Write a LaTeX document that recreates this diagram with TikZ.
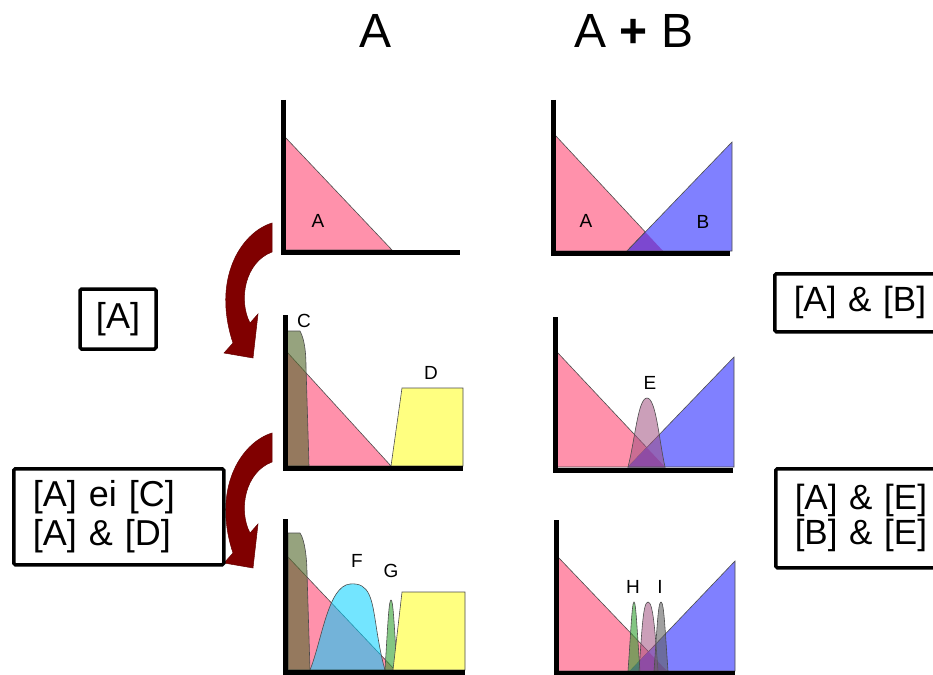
\documentclass[tikz,border=0pt]{standalone}
\usepackage{fontspec}
\setmainfont{Liberation Sans}
\definecolor{pinkA}{HTML}{FF91AB}
\definecolor{blueB}{HTML}{8080FF}
\definecolor{overAB}{HTML}{7C48D0}
\definecolor{yellowD}{HTML}{FFFF80}
\definecolor{oliveC}{HTML}{556B2F}
\definecolor{cyanF}{HTML}{00D0FF}
\definecolor{greenG}{HTML}{30A030}
\definecolor{mauveE}{HTML}{A05080}
\definecolor{grayI}{HTML}{606060}
\definecolor{arrowred}{HTML}{800000}
\begin{document}
\begin{tikzpicture}[x=1pt,y=-1pt,
  axis/.style={line width=5pt, line join=miter},
  shp/.style={draw=black!70, line width=0.6pt},
  bell/.style={draw=black!70, line width=0.6pt, fill opacity=0.55},
  lbl/.style={font=\fontsize{19}{19}\selectfont, inner sep=0pt},
  ttl/.style={font=\fontsize{48}{48}\selectfont, inner sep=0pt},
  box/.style={draw, line width=3.5pt, rounded corners=1.5pt, inner sep=0pt},
  bigarrow/.style={fill=arrowred, draw=arrowred!80!black, line width=0.5pt}]
\useasboundingbox (0,0) rectangle (933,674);
\clip (0,0) rectangle (933,674);

% titles
\node[ttl] (tA) at (376,31) {A};
\node[ttl] (tAB) at (634,31) {A \textbf{+} B};

% ---------- panel 1 ----------
\fill[shp, fill=pinkA] (285,137) -- (392,250) -- (285,250) -- cycle;
\draw[axis] (283,100) -- (283,252) -- (460,252);
\node[lbl] (lA1) at (318,221) {A};

% ---------- panel 2 ----------
\fill[shp, fill=pinkA] (555,135) -- (663,251) -- (555,251) -- cycle;
\fill[shp, fill=blueB] (627,251) -- (732,142) -- (732,251) -- cycle;
\begin{scope}
  \clip (555,135) -- (663,251) -- (555,251) -- cycle;
  \fill[shp, fill=overAB] (627,251) -- (732,142) -- (732,251) -- cycle;
\end{scope}
\draw[axis] (553,100) -- (553,253) -- (730,253);
\node[lbl] (lA2) at (586,221) {A};
\node[lbl] (lB2) at (703,222) {B};

% ---------- panel 3 ----------
\fill[shp, fill=pinkA] (287,352) -- (391,466) -- (287,466) -- cycle;
\fill[shp, fill=yellowD] (391,466) -- (402,388) -- (463,388) -- (463,466) -- cycle;
\filldraw[bell, fill=oliveC, fill opacity=0.62] (287,331) -- (300,331) .. controls (305,340) and (306,355) .. (306,367) -- (309,466) -- (287,466) -- cycle;
\draw[axis] (285,315) -- (285,468) -- (463,468);
\node[lbl] (lC) at (304,321) {C};
\node[lbl] (lD) at (431,373) {D};

% ---------- panel 4 ----------
\fill[shp, fill=pinkA] (557,352) -- (665,467) -- (557,467) -- cycle;
\fill[shp, fill=blueB] (628,467) -- (734,357) -- (734,467) -- cycle;
\begin{scope}
  \clip (557,352) -- (665,467) -- (557,467) -- cycle;
  \fill[fill=overAB] (628,467) -- (734,357) -- (734,467) -- cycle;
\end{scope}
\filldraw[bell, fill=mauveE] (628,467) .. controls (635,440) and (638,398) .. (647,398) .. controls (656,398) and (659,440) .. (665,467) -- cycle;
\draw[axis] (555,317) -- (555,470) -- (733,470);
\node[lbl] (lE) at (650,383) {E};

% ---------- panel 5 ----------
\fill[shp, fill=pinkA] (288,557) -- (395,670) -- (288,670) -- cycle;
\filldraw[bell, fill=oliveC, fill opacity=0.62] (288,533) -- (300,533) .. controls (305,540) and (307,560) .. (307,573) -- (310,670) -- (288,670) -- cycle;
\filldraw[bell, fill=cyanF] (310,670) .. controls (322,640) and (328,586) .. (350,584) .. controls (370,582) and (372,600) .. (376,625) .. controls (379,645) and (382,660) .. (385,670) -- cycle;
\filldraw[bell, fill=greenG, fill opacity=0.6] (385,670) .. controls (388,620) and (389,600) .. (391,600) .. controls (393,600) and (394,620) .. (397,670) -- cycle;
\fill[shp, fill=yellowD] (393,670) -- (402,592) -- (465,592) -- (465,670) -- cycle;
\draw[axis] (285,519) -- (285,672) -- (465,672);
\node[lbl] (lF) at (357,561) {F};
\node[lbl] (lG) at (391,571) {G};

% ---------- panel 6 ----------
\fill[shp, fill=pinkA] (558,557) -- (667,671) -- (558,671) -- cycle;
\fill[shp, fill=blueB] (630,671) -- (735,561) -- (735,671) -- cycle;
\begin{scope}
  \clip (558,557) -- (667,671) -- (558,671) -- cycle;
  \fill[fill=overAB] (630,671) -- (735,561) -- (735,671) -- cycle;
\end{scope}
\filldraw[bell, fill=greenG, fill opacity=0.6] (628,671) .. controls (631,630) and (632,602) .. (634,602) .. controls (636,602) and (637,630) .. (640,671) -- cycle;
\filldraw[bell, fill=mauveE] (639,671) .. controls (642,630) and (643,602) .. (648,602) .. controls (653,602) and (655,630) .. (658,671) -- cycle;
\filldraw[bell, fill=grayI, fill opacity=0.6] (654,671) .. controls (657,630) and (658,602) .. (661,602) .. controls (664,602) and (665,630) .. (668,671) -- cycle;
\draw[axis] (556,520) -- (556,673) -- (735,673);
\node[lbl] (lH) at (633,587) {H};
\node[lbl] (lI) at (660,587) {I};

% ---------- arrows ----------
\filldraw[bigarrow] (272,223) .. controls (240,233) and (212,280) .. (233,343) -- (224,353) -- (253,358) -- (258,314) -- (250,323) .. controls (238,300) and (245,262) .. (272,252) -- cycle;
\begin{scope}[shift={(0,210)}]
\filldraw[bigarrow] (272,223) .. controls (240,233) and (212,280) .. (233,343) -- (224,353) -- (253,358) -- (258,314) -- (250,323) .. controls (238,300) and (245,262) .. (272,252) -- cycle;
\end{scope}

% ---------- boxes ----------
\node[box, minimum width=76pt, minimum height=60pt, font=\fontsize{36}{36}\selectfont] (bA) at (118,319) {[A]};
\node[box, minimum width=210pt, minimum height=96pt, anchor=north west, align=left, text width=172pt, inner xsep=19pt, font=\fontsize{36}{39}\selectfont] (bAC) at (12,467) {{[A]} ei [C]\\{[A]} \& [D]};
\node[box, minimum width=170pt, minimum height=58pt, anchor=north west, align=left, text width=140pt, inner xsep=19pt, font=\fontsize{35}{35}\selectfont] (bAB) at (773,272) {{[A]} \& [B]};
\node[box, minimum width=170pt, minimum height=99pt, anchor=north west, align=left, text width=140pt, inner xsep=19pt, font=\fontsize{35}{35}\selectfont] (bAE) at (774,467) {{[A]} \& [E]\\{[B]} \& [E]};
\end{tikzpicture}
\end{document}
